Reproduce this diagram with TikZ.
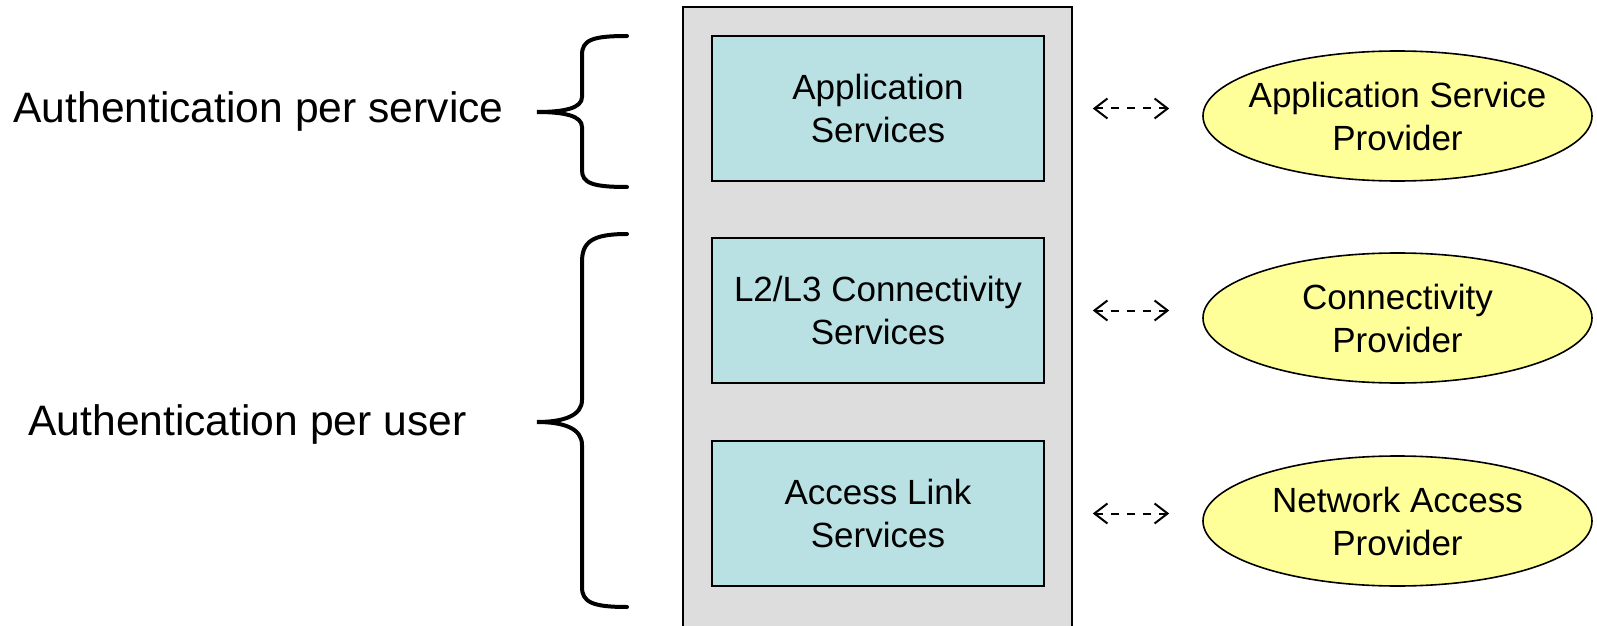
\documentclass[tikz,border=0pt]{standalone}
\usepackage{fontspec}
\setmainfont{Liberation Sans}
\usepackage{tikz}
\usetikzlibrary{arrows.meta,shapes.geometric,positioning}

\definecolor{stackgray}{HTML}{DDDDDD}
\definecolor{servicecyan}{HTML}{B9E0E3}
\definecolor{provideryellow}{HTML}{FFFF99}

\begin{document}
\begin{tikzpicture}[x=0.5pt,y=-0.5pt,
service/.style={rectangle,draw=black,line width=0.8pt,fill=servicecyan,
minimum width=166pt,minimum height=72.5pt,align=center,
font=\fontsize{17.5}{21.5}\selectfont},
provider/.style={ellipse,draw=black,line width=0.8pt,fill=provideryellow,
minimum width=194.5pt,minimum height=65pt,inner xsep=-20pt,inner ysep=-5pt,align=center,
font=\fontsize{17.5}{21.5}\selectfont},
link/.style={{Straight Barb[length=6.5pt,width=10pt]}-{Straight Barb[length=6.5pt,width=10pt]},
line width=1pt,dash pattern=on 4pt off 4pt,shorten <=24pt,shorten >=16.5pt},
curly/.style={line width=2pt,line cap=round},
authtext/.style={anchor=base west,inner sep=0pt,font=\fontsize{21.3}{25}\selectfont}]
\useasboundingbox (0,0) rectangle (1597,626);

% the stack
\draw[fill=stackgray,line width=0.8pt] (683,7) rectangle (1072,640);

\node (AppServ) [service] at (878,108.5) {Application\\Services};
\node (ConnServ) [service] at (878,310.5) {L2/L3 Connectivity\\Services};
\node (LinkServ) [service] at (878,513.5) {Access Link\\Services};

% providers
\node (AppProv) [provider] at (1397.5,116) {Application Service\\Provider};
\node (ConnProv) [provider] at (1397.5,318) {Connectivity\\Provider};
\node (NetProv) [provider] at (1397.5,521) {Network Access\\Provider};

\draw[link] (AppServ.east) -- (AppServ.east -| AppProv.west);
\draw[link] (ConnServ.east) -- (ConnServ.east -| ConnProv.west);
\draw[link] (LinkServ.east) -- (LinkServ.east -| NetProv.west);

% braces
\draw[curly] (627,36) .. controls (592,36) and (582,40) .. (582,55) -- (582,97)
.. controls (582,108) and (565,112) .. (537,112)
.. controls (565,112) and (582,116) .. (582,127) -- (582,170)
.. controls (582,183) and (592,187) .. (627,187);
\draw[curly] (627,234) .. controls (592,234) and (582,242) .. (582,262) -- (582,400)
.. controls (582,415) and (565,422) .. (537,422)
.. controls (565,422) and (582,429) .. (582,445) -- (582,587)
.. controls (582,602) and (592,607) .. (627,607);

\node (PerService) [authtext] at (13,123) {Authentication per service};
\node (PerUser) [authtext] at (28,435) {Authentication per user};

\end{tikzpicture}
\end{document}
